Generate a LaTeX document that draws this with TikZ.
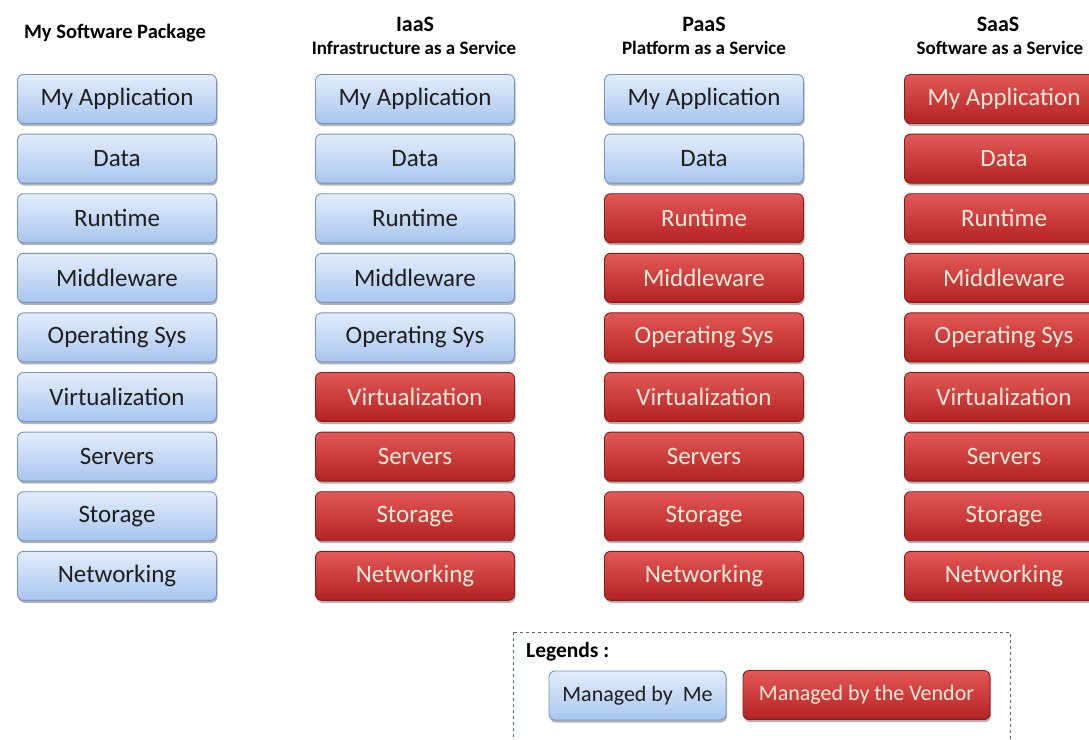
\documentclass[tikz,border=0pt]{standalone}
\usepackage{fontspec}
\setmainfont{Carlito}
\usetikzlibrary{shadows}
\definecolor{metop}{HTML}{E3EDFB}
\definecolor{mebot}{HTML}{A8C5EE}
\definecolor{meborder}{HTML}{7393C4}
\definecolor{vtop}{HTML}{E35858}
\definecolor{vbot}{HTML}{B42222}
\definecolor{vborder}{HTML}{8A1A1A}
\definecolor{vtext}{HTML}{F8EAD8}
\definecolor{metext}{HTML}{1E1E1E}
\definecolor{legline}{HTML}{4F6480}
\tikzset{
  base/.style={rounded corners=6pt, minimum width=199pt, minimum height=49pt,
    inner sep=0pt, font=\fontsize{25}{29}\selectfont, line width=0.9pt,
    drop shadow={shadow xshift=1pt, shadow yshift=-2.5pt, opacity=0.3, fill=black}},
  me/.style={base, draw=meborder, top color=metop, bottom color=mebot, text=metext},
  vendor/.style={base, draw=vborder, top color=vtop, bottom color=vbot, text=vtext},
  legendtext/.style={font=\fontsize{22}{26}\selectfont},
  title/.style={font=\fontsize{22}{25}\selectfont\bfseries, text=black, inner sep=0pt},
  subtitle/.style={font=\fontsize{19}{22}\selectfont\bfseries, text=black, inner sep=0pt},
  legendbox/.style={draw=legline, dashed, line width=0.8pt}
}
\begin{document}
\begin{tikzpicture}[x=1pt,y=-1pt]
\useasboundingbox (0,0) rectangle (1089,739);
\clip (0,0) rectangle (1089,739);
\fill[white] (0,0) rectangle (1089,739);
% titles
\node[title, font=\fontsize{20.5}{23}\selectfont\bfseries] (t1) at (115,33) {My Software Package};
\node[title] (t2) at (415,24) {IaaS};
\node[subtitle] (s2) at (414,48) {Infrastructure as a Service};
\node[title] (t3) at (704,24) {PaaS};
\node[subtitle] (s3) at (704,48) {Platform as a Service};
\node[title] (t4) at (998,24) {SaaS};
\node[subtitle] (s4) at (1000,48) {Software as a Service};
% stacks
\foreach \lab [count=\r] in {My Application, Data, Runtime, Middleware, Operating Sys, Virtualization, Servers, Storage, Networking} {
  \foreach \cx/\nme [count=\c] in {117/9, 415/5, 704/2, 1004/0} {
    \ifnum\r>\nme\relax\def\st{vendor}\else\def\st{me}\fi
    \node[\st] (b\c-\r) at (\cx,{99+(\r-1)*59.6}) {\lab};
  }
}
% legend
\draw[legendbox] (513,632) rectangle (1010,770);
\node[anchor=west, inner sep=0pt, font=\fontsize{21.5}{25}\selectfont\bfseries] (leg) at (526,652) {Legends :};
\node[me, legendtext, minimum width=177pt] (lme) at (637.5,695.5) {Managed by\ \ Me};
\node[vendor, legendtext, minimum width=247pt] (lv) at (866.5,695) {Managed by the Vendor};
\end{tikzpicture}
\end{document}
